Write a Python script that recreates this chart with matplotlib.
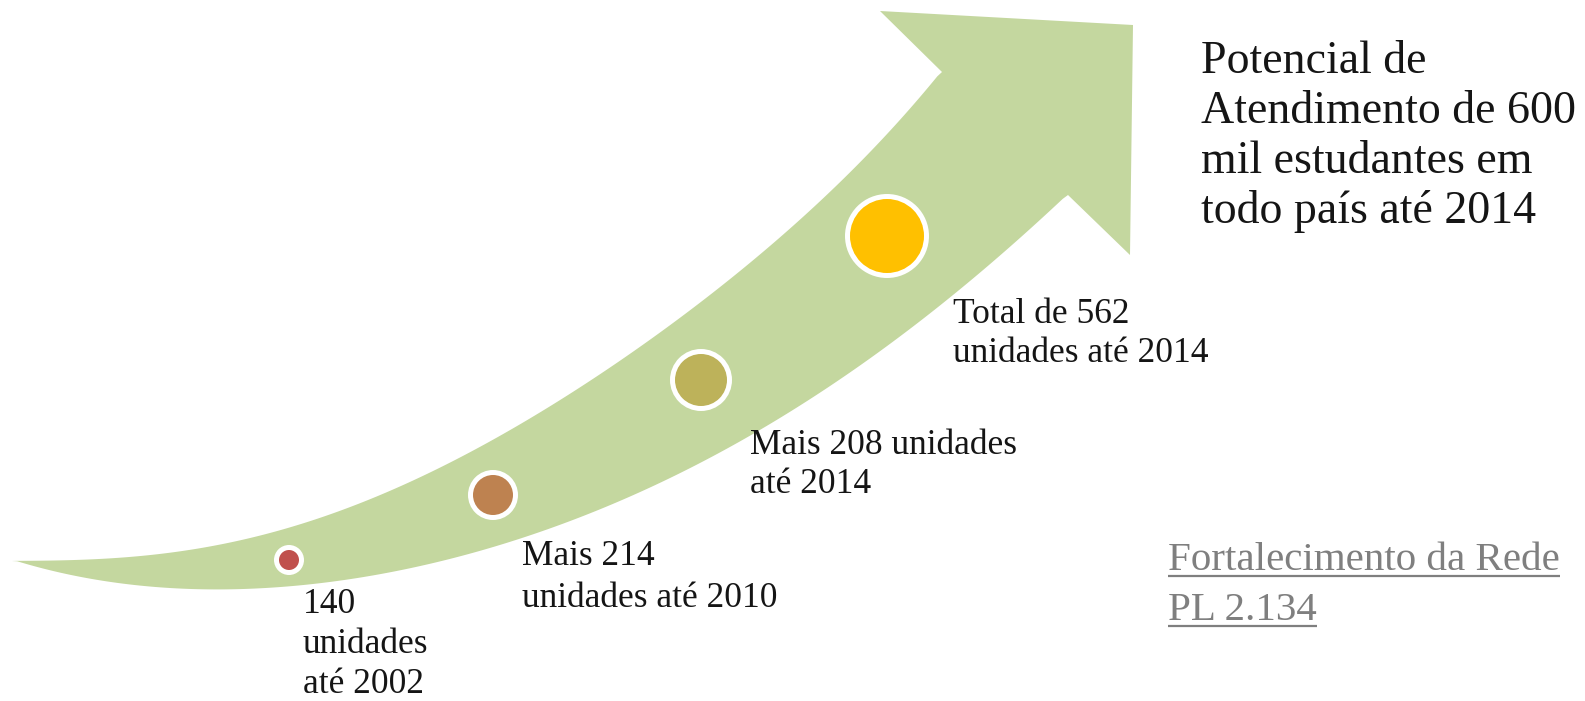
import numpy as np
import matplotlib
matplotlib.use('Agg')
import matplotlib.pyplot as plt
from matplotlib.patches import Polygon, Circle

# milestone data (labels, colours and marker sizes)
milestone_labels = [
    ['140', 'unidades', 'até 2002'],
    ['Mais 214', 'unidades até 2010'],
    ['Mais 208 unidades', 'até 2014'],
    ['Total de 562', 'unidades até 2014'],
]
milestone_colors = ['#C0504D', '#BE8250', '#BDB25A', '#FFC000']
milestone_x = [289, 493, 701, 887]
milestone_y = [560, 495, 380, 236]
milestone_r = [10, 20, 26, 37]

goal_lines = ['Potencial de', 'Atendimento de 600', 'mil estudantes em', 'todo país até 2014']
link_lines = ['Fortalecimento da Rede', 'PL 2.134']

# arrow outline (pixel coords, y down)
upper_x = [12, 100, 200, 300, 400, 480, 580, 680, 780, 860, 942]
upper_y = [561, 559, 547, 525, 490, 443, 387, 317, 243, 157, 72]
head = [(880, 11), (1133, 25), (1130, 255)]
lower_x = [12, 100, 200, 233, 300, 400, 500, 580, 680, 780, 880, 967, 1068]
lower_y = [561, 577, 589, 591, 588, 570, 542, 517, 473, 420, 353, 280, 195]


def edge(xs, ys, deg=5, n=200):
    # smooth curve through the measured edge points
    c = np.polyfit(xs, ys, deg)
    x = np.linspace(xs[0], xs[-1], n)
    y = np.polyval(c, x)
    y[0], y[-1] = ys[0], ys[-1]
    return np.column_stack([x, y])


fig = plt.figure(figsize=(15.85, 7.01), dpi=100)
ax = fig.add_axes([0, 0, 1, 1])
ax.set_xlim(0, 1585)
ax.set_ylim(701, 0)
ax.axis('off')

up = edge(upper_x, upper_y)
lo = edge(lower_x, lower_y)[::-1]
outline = np.vstack([up, np.array(head, float), lo])
ax.add_patch(Polygon(outline, closed=True, facecolor='#C4D79F', edgecolor='none'))

for x, y, r, c in zip(milestone_x, milestone_y, milestone_r, milestone_colors):
    ax.add_patch(Circle((x, y), r + 5, facecolor='white', edgecolor='none'))
    ax.add_patch(Circle((x, y), r, facecolor=c, edgecolor='none'))

serif = ['Liberation Serif', 'DejaVu Serif']
label_pos = [(303, 613, 40), (522, 565, 42), (750, 454, 39), (953, 323, 39)]
for lines, (lx, ly, step) in zip(milestone_labels, label_pos):
    for i, s in enumerate(lines):
        ax.text(lx, ly + i * step, s, fontsize=25.5, family=serif, color='#151515',
                ha='left', va='baseline')

for i, s in enumerate(goal_lines):
    ax.text(1201, 73 + i * 50, s, fontsize=33, family=serif, color='#151515',
            ha='left', va='baseline')

fig.canvas.draw()
renderer = fig.canvas.get_renderer()
for i, s in enumerate(link_lines):
    by = 570 + i * 50
    t = ax.text(1168, by, s, fontsize=29.5, family=serif, color='#7F7F7F',
                ha='left', va='baseline')
    bb = t.get_window_extent(renderer).transformed(ax.transData.inverted())
    ax.plot([bb.x0, bb.x1], [by + 6, by + 6], color='#7F7F7F', lw=1.6,
            solid_capstyle='butt')

fig.savefig('out.png', dpi=100)
